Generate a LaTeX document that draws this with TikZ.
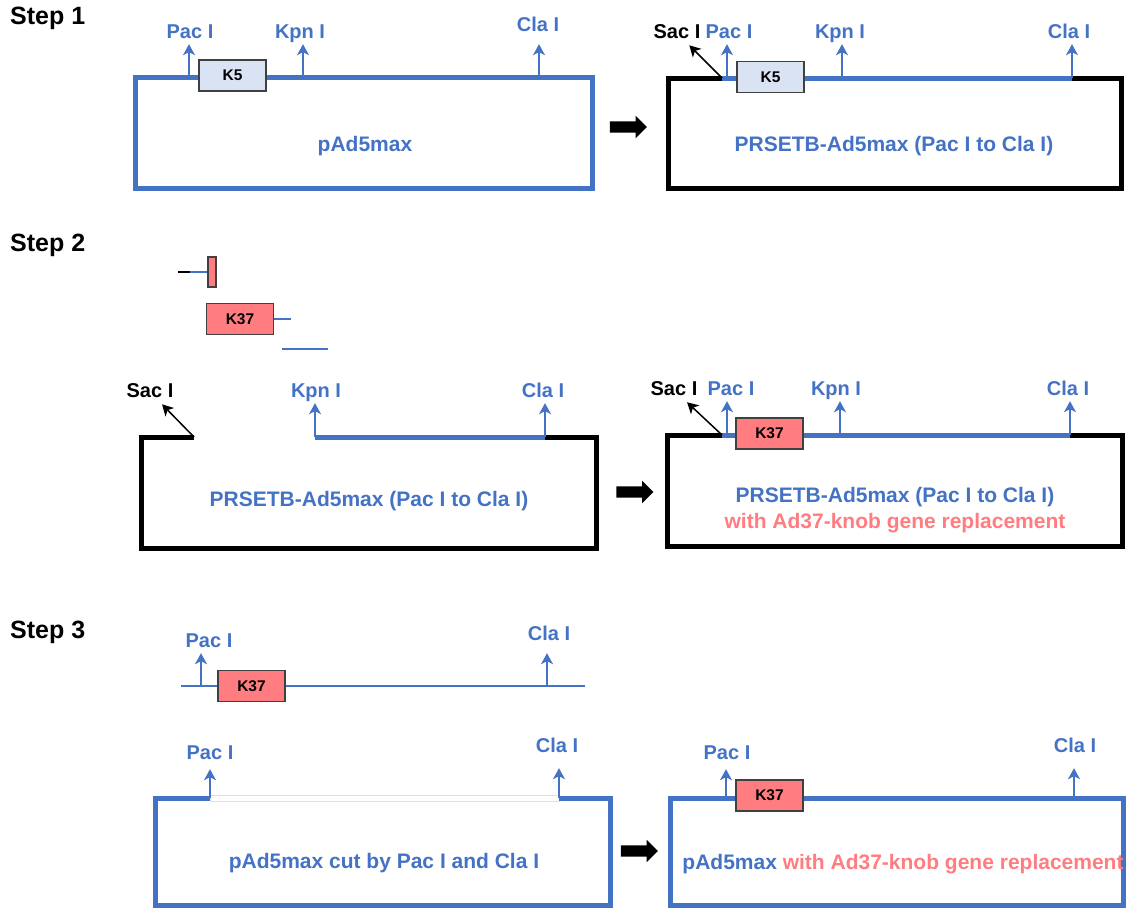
\documentclass[tikz,border=0pt]{standalone}
\usepackage{fontspec}
\setmainfont{Liberation Sans}
\usetikzlibrary{arrows.meta,shapes.arrows,positioning}
\definecolor{adblue}{HTML}{4472C4}
\definecolor{adred}{HTML}{FF7C80}
\definecolor{adpale}{HTML}{DAE3F3}

\begin{document}
\begin{tikzpicture}[x=1pt, y=-1pt,
        every node/.style={font=\bfseries\fontsize{21}{25}\selectfont, inner sep=1pt},
        steplabel/.style={anchor=west, font=\bfseries\fontsize{25}{29}\selectfont},
        site/.style={text=adblue, font=\bfseries\fontsize{20}{24}\selectfont, text height=14pt, text depth=4pt},
        sacsite/.style={site, text=black},
        vector/.style={draw=adblue, line width=5pt},
        frame/.style={draw=black, line width=5pt},
        fragment/.style={draw=adblue, line width=2.5pt},
        cutarrow/.style={draw=adblue, line width=1.5pt, shorten >=1pt, -{Stealth[length=11pt, width=12pt, inset=3pt]}},
        sacarrow/.style={draw=black, line width=1.5pt, shorten >=3pt, -{Stealth[length=11pt, width=12pt, inset=3pt]}},
        gene/.style={draw=black!75, line width=1.2pt, minimum width=67pt, minimum height=31pt, font=\bfseries\fontsize{15.5}{18}\selectfont},
        knobfive/.style={gene, fill=adpale},
        knobtt/.style={gene, fill=adred},
        bigarrow/.style={single arrow, fill=black, draw=none, inner sep=0pt, text height=11pt, text depth=0pt, minimum height=37pt, minimum width=22pt, single arrow head extend=5.5pt, single arrow head indent=0pt}
    ]
    \useasboundingbox (0,0) rectangle (1130,908);

    % Step 1
    \node[steplabel] (stepA) at (9,18) {Step 1};

    \draw[vector] (135,77) rectangle (592,188);
    \coordinate (pacA) at (189,77);
    \coordinate (kpnA) at (303,77);
    \coordinate (claA) at (539,77);
    \node[site] (pacAl) at (190,33) {Pac I};
    \node[site] (kpnAl) at (300,33) {Kpn I};
    \node[site] (claAl) at (538,26) {Cla I};
    \draw[cutarrow] (pacA) -- (pacA |- pacAl.south);
    \draw[cutarrow] (kpnA) -- (kpnA |- kpnAl.south);
    \draw[cutarrow, shorten >=8pt] (claA) -- (claA |- claAl.south);
    \node[knobfive] (kfiveA) at (232.5,75.5) {K5};
    \node (vecA) at (365,146) {\color{adblue}pAd5max};

    \node[bigarrow] (arrA) at (625.5,127) {};

    \draw[frame] (722,78) -- (668,78) -- (668,188) -- (1121,188) -- (1121,78) -- (1072,78);
    \draw[vector, line cap=butt] (722,78) -- (1072,78);
    \coordinate (sacB) at (722,78);
    \coordinate (pacB) at (727,78);
    \coordinate (kpnB) at (842,78);
    \coordinate (claB) at (1072,78);
    \node[sacsite] (sacBl) at (677,33) {Sac I};
    \node[site] (pacBl) at (729,33) {Pac I};
    \node[site] (kpnBl) at (840,33) {Kpn I};
    \node[site] (claBl) at (1069,33) {Cla I};
    \draw[sacarrow] (sacB) -- (sacBl);
    \draw[cutarrow] (pacB) -- (pacB |- pacBl.south);
    \draw[cutarrow] (kpnB) -- (kpnB |- kpnBl.south);
    \draw[cutarrow] (claB) -- (claB |- claBl.south);
    \node[knobfive] (kfiveB) at (770.5,77) {K5};
    \node (vecB) at (894,146) {\color{adblue}PRSETB-Ad5max (Pac I to Cla I)};

    % Step 2
    \node[steplabel] (stepB) at (9,245) {Step 2};

    \coordinate (fragAa) at (178,272);
    \coordinate (fragAb) at (190,272);
    \node[gene, fill=adred, minimum width=8pt, minimum height=30pt, inner sep=0pt] (primer) at (212,272) {};
    \draw[draw=black, line width=2.5pt] (fragAa) -- (fragAb);
    \draw[fragment] (fragAb) -- (primer.west);
    \node[knobtt] (ktt) at (240,319) {K37};
    \coordinate (fragBb) at (291,319);
    \draw[fragment] (ktt.east) -- (fragBb);
    \coordinate (fragCa) at (282,349);
    \coordinate (fragCb) at (328,349);
    \draw[fragment] (fragCa) -- (fragCb);

    \draw[frame] (194,437) -- (141,437) -- (141,548) -- (596,548) -- (596,437) -- (545,437);
    \draw[vector, line cap=butt] (315,437) -- (545,437);
    \coordinate (sacC) at (194,437);
    \coordinate (kpnC) at (315,437);
    \coordinate (claC) at (545,437);
    \node[sacsite] (sacCl) at (150,392) {Sac I};
    \node[site] (kpnCl) at (316,392) {Kpn I};
    \node[site] (claCl) at (543,392) {Cla I};
    \draw[sacarrow] (sacC) -- (sacCl);
    \draw[cutarrow] (kpnC) -- (kpnC |- kpnCl.south);
    \draw[cutarrow] (claC) -- (claC |- claCl.south);
    \node (vecC) at (369,501) {\color{adblue}PRSETB-Ad5max (Pac I to Cla I)};

    \node[bigarrow] (arrB) at (632,492) {};

    \draw[frame] (722,435) -- (667,435) -- (667,546) -- (1122,546) -- (1122,435) -- (1070,435);
    \draw[vector, line cap=butt] (722,435) -- (1070,435);
    \coordinate (sacD) at (722,435);
    \coordinate (pacD) at (727,435);
    \coordinate (kpnD) at (840,435);
    \coordinate (claD) at (1070,435);
    \node[sacsite] (sacDl) at (674,390) {Sac I};
    \node[site] (pacDl) at (731,390) {Pac I};
    \node[site] (kpnDl) at (836,390) {Kpn I};
    \node[site] (claDl) at (1068,390) {Cla I};
    \draw[sacarrow] (sacD) -- (sacDl);
    \draw[cutarrow] (pacD) -- (pacD |- pacDl.south);
    \draw[cutarrow] (kpnD) -- (kpnD |- kpnDl.south);
    \draw[cutarrow] (claD) -- (claD |- claDl.south);
    \node[knobtt] (kttD) at (769.5,433.5) {K37};
    \node (vecD) at (895,497) {\color{adblue}PRSETB-Ad5max (Pac I to Cla I)};
    \node (repD) at (895,523) {\color{adred}with Ad37-knob gene replacement};

    % Step 3
    \node[steplabel] (stepC) at (9,632) {Step 3};

    \coordinate (insA) at (181,686);
    \coordinate (insB) at (585,686);
    \draw[fragment, line width=2pt] (insA) -- (insB);
    \coordinate (pacE) at (201,686);
    \coordinate (claE) at (547,686);
    \node[site] (pacEl) at (209,642) {Pac I};
    \node[site] (claEl) at (549,635) {Cla I};
    \draw[cutarrow] (pacE) -- (pacE |- pacEl.south);
    \draw[cutarrow, shorten >=8pt] (claE) -- (claE |- claEl.south);
    \node[knobtt] (kttE) at (251.5,686) {K37};

    \draw[draw=gray!25, line width=0.6pt, fill=white] (210,795) rectangle (559,801);
    \draw[vector] (210,798) -- (155,798) -- (155,905) -- (610,905) -- (610,798) -- (559,798);
    \coordinate (pacF) at (210,798);
    \coordinate (claF) at (559,798);
    \node[site] (pacFl) at (210,754) {Pac I};
    \node[site] (claFl) at (557,747) {Cla I};
    \draw[cutarrow, shorten >=5pt] (pacF) -- (pacF |- pacFl.south);
    \draw[cutarrow, shorten >=11pt] (claF) -- (claF |- claFl.south);
    \node (vecF) at (384,863) {\color{adblue}pAd5max cut by Pac I and Cla I};

    \node[bigarrow] (arrC) at (636.5,851) {};

    \draw[vector] (670,798) rectangle (1123,905);
    \coordinate (pacG) at (726,798);
    \coordinate (claG) at (1074,798);
    \node[site] (pacGl) at (727,754) {Pac I};
    \node[site] (claGl) at (1075,747) {Cla I};
    \draw[cutarrow, shorten >=5pt] (pacG) -- (pacG |- pacGl.south);
    \draw[cutarrow, shorten >=11pt] (claG) -- (claG |- claGl.south);
    \node[knobtt] (kttG) at (769.5,795.5) {K37};
    \node (vecG) at (903,864) {\color{adblue}pAd5max \color{adred}with Ad37-knob gene replacement};

\end{tikzpicture}
\end{document}
